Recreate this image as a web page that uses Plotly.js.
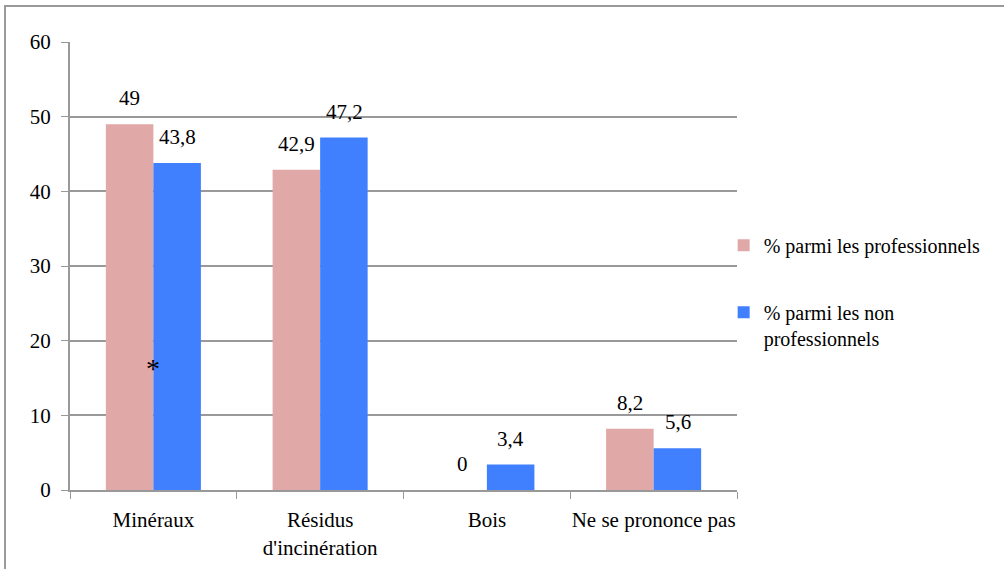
<!DOCTYPE html>
<html>
<head>
<meta charset="utf-8">
<script src="https://cdn.plot.ly/plotly-3.0.1.min.js"></script>
<style>
html,body{margin:0;padding:0;background:#fff;}
#chart{width:1004px;height:569px;position:absolute;left:0;top:0;}
#frame{position:absolute;left:4px;top:5px;width:1010px;height:580px;border-top:2px solid #9a9a9a;border-left:2px solid #9a9a9a;pointer-events:none;z-index:10;}
</style>
</head>
<body>
<div id="chart"></div>
<div id="frame"></div>
<script>
const categories = ["Minéraux", "Résidus<br>d'incinération", "Bois", "Ne se prononce pas"];
const seriesNames = ["% parmi les professionnels", "% parmi les non<br>professionnels"];
const proValues = [49, 42.9, 0, 8.2];
const nonProValues = [43.8, 47.2, 3.4, 5.6];
const proLabels = ["49", "42,9", "0", "8,2"];
const nonProLabels = ["43,8", "47,2", "3,4", "5,6"];
const yTicks = [0, 10, 20, 30, 40, 50, 60];
const starCategory = "Minéraux";
const starValue = 16.3;

const FONT = "Liberation Serif";
const FS = 21;
const pink = "#E0A8A6";
const blue = "#4080FF";

const traces = [
  {type: "bar", x: categories, y: proValues, name: seriesNames[0], marker: {color: pink}, legendgroup: "a"},
  {type: "bar", x: categories, y: nonProValues, name: seriesNames[1], marker: {color: blue}, legendgroup: "b"}
];

const annotations = [];
categories.forEach((c, i) => {
  annotations.push({x: c, y: proValues[i], text: proLabels[i], showarrow: false, xshift: -24, yshift: 26, yanchor: "middle", font: {family: FONT, size: FS, color: "#000"}});
  annotations.push({x: c, y: nonProValues[i], text: nonProLabels[i], showarrow: false, xshift: 24, yshift: 26, yanchor: "middle", font: {family: FONT, size: FS, color: "#000"}});
});
annotations.push({x: starCategory, y: starValue, text: "*", showarrow: false, yanchor: "middle", font: {family: FONT, size: 28, color: "#000"}});

const layout = {
  width: 1004, height: 569,
  margin: {l: 70, r: 267, t: 42, b: 79},
  paper_bgcolor: "#fff", plot_bgcolor: "#fff",
  font: {family: FONT, size: FS, color: "#000"},
  barmode: "group", bargap: 0.43, bargroupgap: 0,
  showlegend: true,
  legend: {x: 0.98, xanchor: "left", y: 0.59, yanchor: "top", tracegroupgap: 38, valign: "top", font: {family: FONT, size: 20}, bgcolor: "rgba(0,0,0,0)", itemwidth: 30},
  xaxis: {type: "category", tickson: "boundaries", tickangle: 0, ticks: "outside", ticklen: 7, tickcolor: "#999", showline: true, linecolor: "#999", linewidth: 2, showgrid: false, zeroline: false, tickfont: {family: FONT, size: FS}, ticklabelstandoff: 10, automargin: false, fixedrange: true},
  yaxis: {range: [0, 60], tickvals: yTicks, ticks: "outside", ticklen: 7, tickcolor: "#999", showline: true, linecolor: "#999", linewidth: 2, showgrid: true, gridcolor: "#999", gridwidth: 2, zeroline: false, tickfont: {family: FONT, size: FS}, ticklabelstandoff: 6, automargin: false, fixedrange: true},
  annotations: annotations
};

Plotly.newPlot("chart", traces, layout, {displayModeBar: false, staticPlot: true});
</script>
</body>
</html>
